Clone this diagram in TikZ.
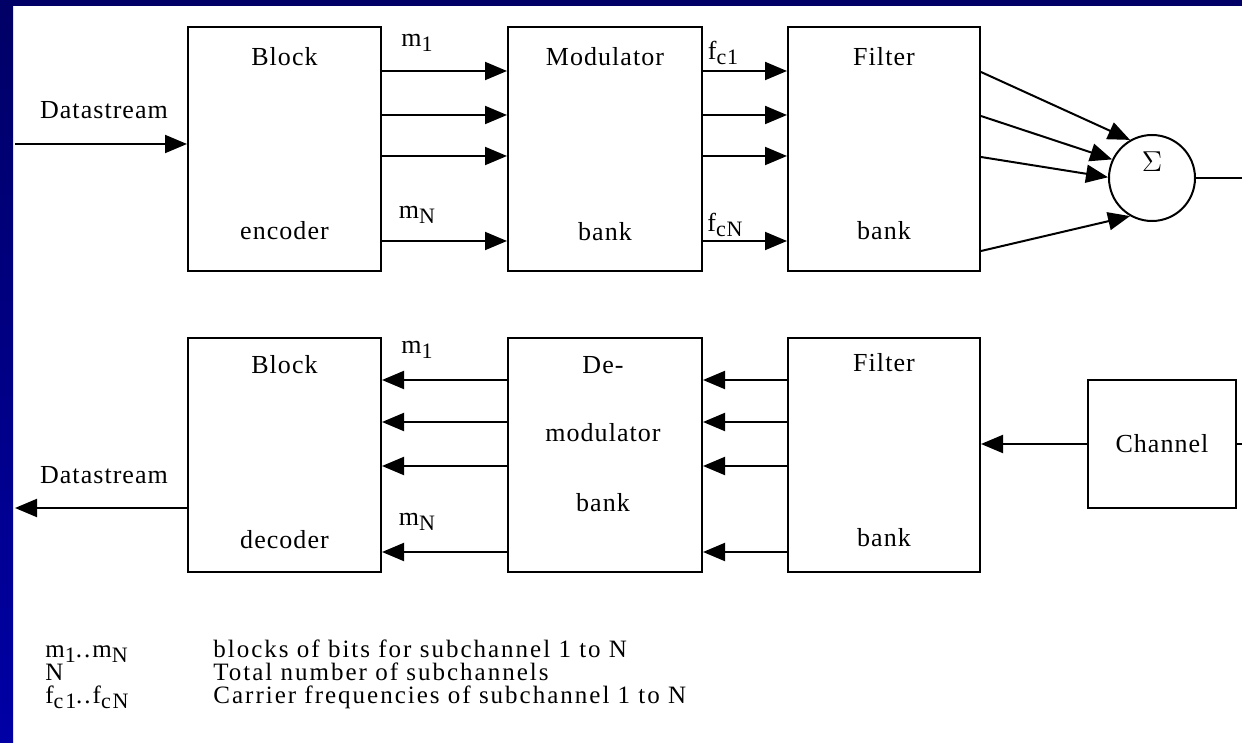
\documentclass[tikz,border=0pt]{standalone}
\usepackage{fontspec}
\setmainfont{Liberation Serif}[LetterSpace=4]
\usetikzlibrary{arrows.meta}
\newcommand{\sbx}[1]{\raisebox{-0.45ex}{\fontsize{11}{12}\selectfont #1}}
\definecolor{navy}{RGB}{0,0,102}
\definecolor{brightblue}{RGB}{0,0,165}
\begin{document}
\begin{tikzpicture}[x=0.5pt,y=-0.5pt,
  every node/.style={font=\fontsize{13}{15}\selectfont, inner sep=0pt},
  box/.style={draw, line width=1pt, rectangle, inner sep=0pt},
  conn/.style={line width=1pt},
  arr/.style={line width=1pt, -{Triangle[length=11pt,width=9pt]}},
  lbl/.style={anchor=center},
  leg/.style={anchor=base west, text height=7pt, text depth=1.5pt,
    font=\fontsize{12.5}{14}\selectfont\addfontfeatures{LetterSpace=8}}]
\useasboundingbox (0,0) rectangle (1242,743);
\fill[white] (0,0) rectangle (1242,743);
\shade[top color=navy, bottom color=brightblue] (0,0) rectangle (13,743);
\fill[navy] (0,0) rectangle (1242,6);

% ---- top row boxes
\node[box, minimum width=96.5pt, minimum height=122pt] (enc) at (284.5,149) {};
\node[box, minimum width=97pt, minimum height=122pt] (mod) at (605,149) {};
\node[box, minimum width=96pt, minimum height=122pt] (filt) at (884,149) {};
\node[draw, circle, line width=1pt, minimum size=43pt] (sum) at (1152,178) {};
\node[lbl] (sigma) at (1152,162) {\fontsize{14}{16}\selectfont $\Sigma$};

\node[lbl] (t1) at (284.5,57) {Block};
\node[lbl] (t2) at (284.5,231) {encoder};
\node[lbl] (t3) at (605,57) {Modulator};
\node[lbl] (t4) at (605,232) {bank};
\node[lbl] (t5) at (884,57) {Filter};
\node[lbl] (t6) at (884,231) {bank};

% input datastream
\coordinate (inL) at (15,144);
\node[lbl] (ds1) at (104,110) {Datastream};
\draw[arr] (inL) -- (enc.west |- inL);

% parallel arrows top
\foreach \y [count=\i] in {71,115,156,241}{
  \coordinate (r\i) at (0,\y);
  \draw[arr] (enc.east |- r\i) -- (mod.west |- r\i);
  \draw[arr] (mod.east |- r\i) -- (filt.west |- r\i);
}
\node[lbl] (m1a) at (417,43) {m\sbx{1}};
\node[lbl] (mNa) at (417,215) {m\sbx{N}};
\node[lbl] (fc1) at (723,53) {f\sbx{c1}};
\node[lbl] (fcN) at (725,225) {f\sbx{cN}};

% into the sum
\foreach \y/\a in {72/120,116/155,157/179,251/240}{
  \coordinate (s) at (0,\y);
  \draw[arr] (filt.east |- s) -- (sum.\a);
}
\coordinate (outR) at (1242,178);
\draw[conn] (sum.east) -- (outR);

% ---- bottom row boxes
\node[box, minimum width=96.5pt, minimum height=117pt] (dec) at (284.5,455) {};
\node[box, minimum width=97pt, minimum height=117pt] (dem) at (605,455) {};
\node[box, minimum width=96pt, minimum height=117pt] (filt2) at (884,455) {};
\node[box, minimum width=74pt, minimum height=64pt] (chan) at (1162,444) {};

\node[lbl] (b1) at (284.5,365) {Block};
\node[lbl] (b2) at (284.5,540) {decoder};
\node[lbl] (b3) at (603,365) {De-};
\node[lbl] (b4) at (603,433) {modulator};
\node[lbl] (b5) at (603,503) {bank};
\node[lbl] (b6) at (884,363) {Filter};
\node[lbl] (b7) at (884,538) {bank};
\node[lbl] (b8) at (1162,444) {Channel};

\foreach \y [count=\i] in {380,422,466,552}{
  \coordinate (q\i) at (0,\y);
  \draw[arr] (dem.west |- q\i) -- (dec.east |- q\i);
  \draw[arr] (filt2.west |- q\i) -- (dem.east |- q\i);
}
\node[lbl] (m1b) at (417,350) {m\sbx{1}};
\node[lbl] (mNb) at (417,522) {m\sbx{N}};

\draw[arr] (chan.west) -- (filt2.east |- chan.west);
\coordinate (chR) at (1242,444);
\draw[conn] (chan.east) -- (chR);

\coordinate (outL) at (15,508);
\node[lbl] (ds2) at (104,475) {Datastream};
\draw[arr] (dec.west |- outL) -- (outL);

% ---- legend
\node[leg] (l1) at (45,657) {m\sbx{1}..m\sbx{N}};
\node[leg] (l2) at (45,680) {N};
\node[leg] (l3) at (45,703) {f\sbx{c1}..f\sbx{cN}};
\node[leg] (d1) at (213,657) {blocks of bits for subchannel 1 to N};
\node[leg] (d2) at (213,680) {Total number of subchannels};
\node[leg] (d3) at (213,703) {Carrier frequencies of subchannel 1 to N};
\end{tikzpicture}
\end{document}
